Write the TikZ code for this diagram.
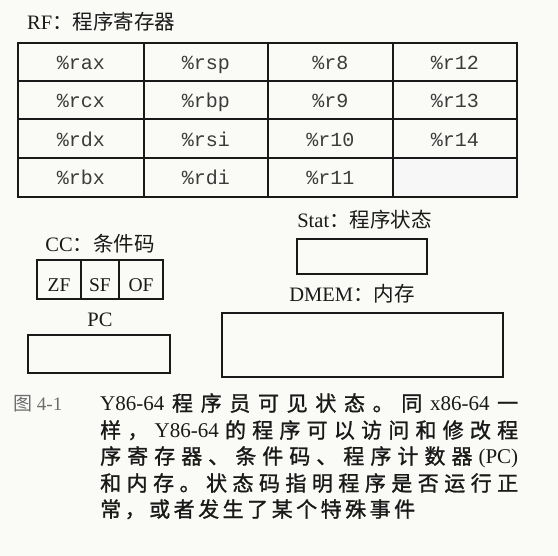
\documentclass[tikz,border=0pt]{standalone}
\usepackage{fontspec}
\setmainfont{Liberation Serif}
\newfontfamily\cjk{Noto Sans CJK SC}
\newfontfamily\cjkcap[FakeBold=1.2]{Noto Sans CJK SC}
\newfontfamily\regfont{Liberation Mono}
\definecolor{paper}{RGB}{250,250,247}
\definecolor{ink}{RGB}{25,25,25}

% spread the tokens of a caption line over a given width
\def\spreadend{\spreadend}
\newcommand\spreadline[2]{\makebox[#1][s]{\spreadaux#2\spreadend}}
\def\spreadaux#1{\ifx\spreadend#1\unskip\else{#1}\hfil\expandafter\spreadaux\fi}

\tikzset{
  lbl/.style={font=\fontsize{20.5}{22}\selectfont, inner sep=0pt, anchor=base, text=ink},
  reg/.style={font=\regfont\fontsize{20}{22}\selectfont, inner sep=0pt, anchor=base, text=ink!85},
  flag/.style={font=\fontsize{19.5}{21}\selectfont, inner sep=0pt, anchor=base, text=ink},
  capline/.style={font=\cjkcap\fontsize{21}{26}\selectfont, inner sep=0pt, anchor=base west, text=ink},
  frame/.style={draw=ink, line width=1.7pt},
}

\begin{document}
\begin{tikzpicture}[x=1pt,y=-1pt]   % ------ visible state of Y86-64 --------------
    \useasboundingbox[fill=paper] (0,0) rectangle (558,556);

    % register file
    \node[lbl, anchor=base west] (rf) at (27,30) {RF\cjk：程序寄存器};
    \fill[gray!6] (393,158) rectangle (517,197);
    \draw[frame, line width=1.9pt] (18,43) rectangle (517,197);
    \foreach \x in {144,268,393} \draw[ink, line width=1.4pt] (\x,43) -- (\x,197);
    \foreach \y in {81,119,158} \draw[ink, line width=1.4pt] (18,\y) -- (517,\y);
    \foreach \cx/\col in {81/{rax,rcx,rdx,rbx}, 206/{rsp,rbp,rsi,rdi},
                          330.5/{r8,r9,r10,r11}, 455/{r12,r13,r14}}
      \foreach \r [count=\j] in \col {
        \pgfmathsetmacro\ry{62+38.5*(\j-1)+7.5}
        \node[reg] (reg-\r) at (\cx,\ry) {\%\r};
      };

    % condition codes
    \node[lbl] (cc) at (100,252) {CC\cjk：条件码};
    \draw[frame] (37,260) rectangle (163,299);
    \draw[ink, line width=1.4pt] (81,260) -- (81,299) (119,260) -- (119,299);
    \node[flag] (zf) at (59,292) {ZF};
    \node[flag] (sf) at (100,292) {SF};
    \node[flag] (of) at (141,292) {OF};

    % program counter
    \node[lbl] (pc) at (100,327) {PC};
    \draw[frame] (28,335) rectangle (170,373);

    % status and memory
    \node[lbl] (stat) at (364.5,228) {Stat\cjk：程序状态};
    \draw[frame] (297,239) rectangle (427,274);
    \node[lbl] (dmem) at (352,302) {DMEM\cjk：内存};
    \draw[frame] (222,313) rectangle (503,377);

    % caption
    \node[capline, text=gray!85!black, font=\fontsize{19}{24}\selectfont] (fig) at (13,411) {{\cjk 图} 4-1};
    \node[capline] (cap1) at (100,411) {\spreadline{418pt}{{\rmfamily Y86-64}程序员可见状态。同{\rmfamily x86-64}一}};
    \node[capline] (cap2) at (100,438) {\spreadline{418pt}{样，{\rmfamily Y86-64}的程序可以访问和修改程}};
    \node[capline] (cap3) at (100,464) {\spreadline{418pt}{序寄存器、条件码、程序计数器{\rmfamily(PC)}}};
    \node[capline] (cap4) at (100,491) {\spreadline{418pt}{和内存。状态码指明程序是否运行正}};
    \node[capline] (cap5) at (100,517) {\spreadline{315pt}{常，或者发生了某个特殊事件}};
\end{tikzpicture}
\end{document}
